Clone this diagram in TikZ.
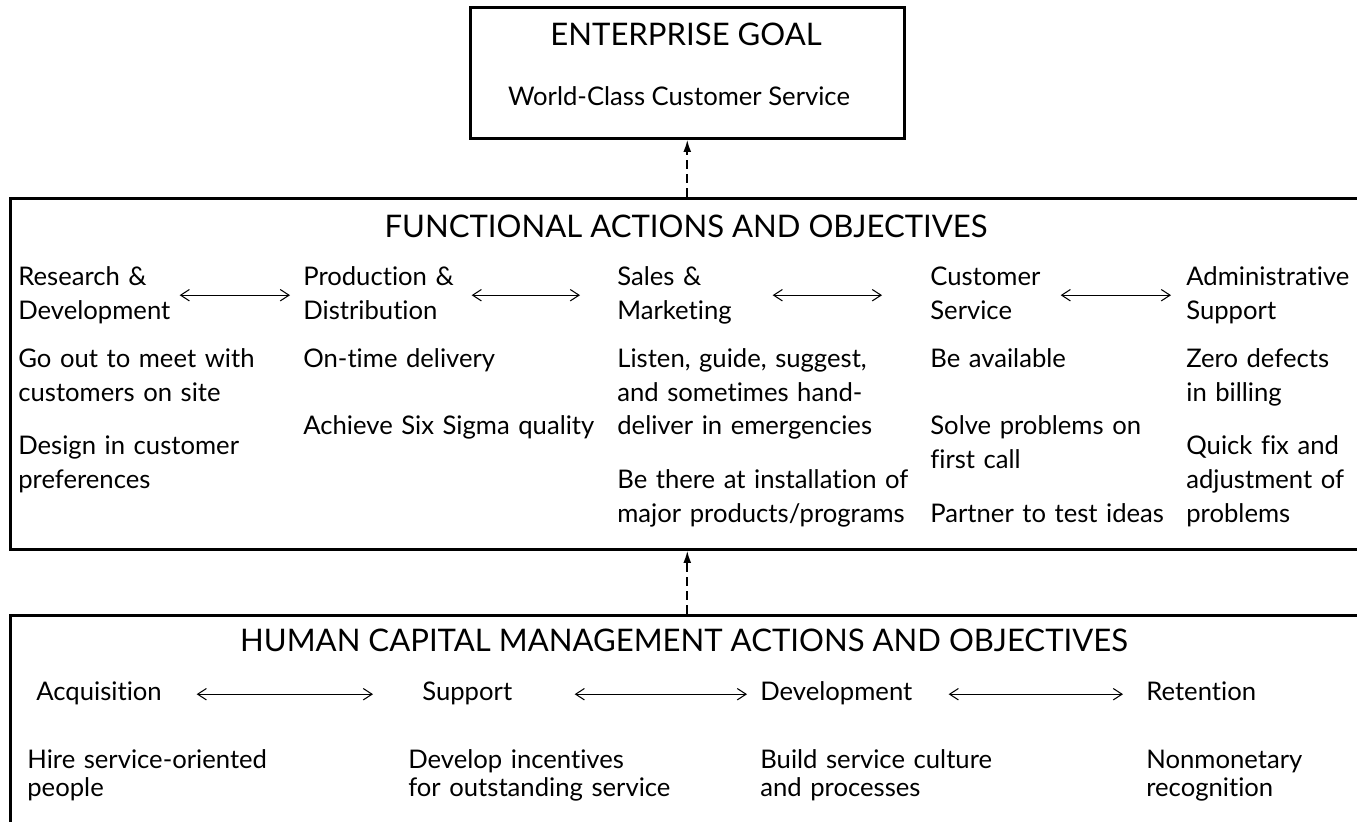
\documentclass[tikz,border=0pt]{standalone}
\usepackage{fontspec}
\setmainfont{Lato}[Ligatures = NoCommon]
\usetikzlibrary{shapes, arrows, arrows.meta}

\begin{document}
\begin{tikzpicture}[x = 0.02cm, y = -0.02cm]
      \tikzstyle{frame} = [
        draw,
        rectangle,
        line width = 1.5pt,
        anchor = north west,
        inner sep = 0pt
      ]

      \tikzstyle{title} = [
        font = \fontsize{17.7}{20}\selectfont,
        anchor = base,
        inner sep = 0pt
      ]

      \tikzstyle{heading} = [
        font = \fontsize{14.6}{19.35}\selectfont,
        align = left,
        anchor = base west,
        inner sep = 0pt,
        execute at begin node = \strut,
        execute at end node = \strut
      ]

      \tikzstyle{lowheading} = [
        heading,
        font = \fontsize{14.6}{16.5}\selectfont
      ]

      \tikzstyle{item} = [
        font = \fontsize{14.6}{19.35}\selectfont,
        align = left,
        text width = 6.5cm,
        anchor = base west,
        inner sep = 0pt
      ]

      \tikzstyle{lowitem} = [
        item,
        font = \fontsize{14.6}{16.5}\selectfont
      ]

      \tikzstyle{link} = [
        {Straight Barb[length = 5pt, width = 6.5pt]}-{Straight Barb[length = 5pt, width = 6.5pt]},
        line width = 0.6pt
      ]

      \tikzstyle{dasharrow} = [
        -{Latex[length = 7pt, width = 4.5pt]},
        line width = 1.1pt,
        dash pattern = on 5pt off 3pt
      ]

      \useasboundingbox (0,0) rectangle (1357,822);
      \clip (0,0) rectangle (1357,822);

      % the three boxes
      \node[frame, minimum width = 8.68cm, minimum height = 2.62cm] (goal) at (469,6) {};
      \node[frame, minimum width = 27.9cm, minimum height = 7.02cm] (functional) at (9,197) {};
      \node[frame, minimum width = 27.9cm, minimum height = 5cm] (hcm) at (9,614) {};

      \node[title] (goalhead) at (686,45) {ENTERPRISE GOAL};
      \node[item, text width = {}, anchor = base] (goalline) at (679,105) {World-Class Customer Service};

      % functional actions
      \node[title] (funchead) at (686,237) {FUNCTIONAL ACTIONS AND OBJECTIVES};

      \node[heading, text width = 3.22cm] (research) at (18,285) {Research \&\\Development};
      \node[heading, text width = 3.36cm] (production) at (303,285) {Production \&\\Distribution};
      \node[heading, text width = 3.1cm] (sales) at (617,285) {Sales \&\\Marketing};
      \node[heading, text width = 2.6cm] (custserv) at (930,285) {Customer\\Service};
      \node[heading, text width = 3.4cm] (admin) at (1186,285) {Administrative\\Support};

      \draw[link, shorten >= 0.26cm] (research.east) -- (production.west);
      \draw[link, shorten >= 0.74cm] (production.east) -- (sales.west);
      \draw[link, shorten >= 0.96cm] (sales.east) -- (custserv.west);
      \draw[link, shorten >= 0.3cm] (custserv.east) -- (admin.west);

      \node[item] (researchgoals) at (18,367) {Go out to meet with\\customers on site\\[0.4cm]Design in customer\\preferences};
      \node[item] (productiongoals) at (303,367) {On-time delivery\\[0.68cm]Achieve Six Sigma quality};
      \node[item] (salesgoals) at (617,367) {Listen, guide, suggest,\\and sometimes hand-\\deliver in emergencies\\[0.4cm]Be there at installation of\\major products/programs};
      \node[item] (custservgoals) at (930,367) {Be available\\[0.68cm]Solve problems on\\first call\\[0.4cm]Partner to test ideas};
      \node[item] (admingoals) at (1186,367) {Zero defects\\in billing\\[0.4cm]Quick fix and\\adjustment of\\problems};

      % human capital management
      \node[title] (hcmhead) at (684,651) {HUMAN CAPITAL MANAGEMENT ACTIONS AND OBJECTIVES};

      \node[lowheading, text width = 3.2cm] (acquisition) at (36,700) {Acquisition};
      \node[lowheading, text width = 3.04cm] (support) at (422,700) {Support};
      \node[lowheading, text width = 3.76cm] (development) at (760,700) {Development};
      \node[lowheading, text width = 3cm] (retention) at (1146,700) {Retention};

      \draw[link, shorten >= 0.98cm] (acquisition.east) -- (support.west);
      \draw[link, shorten >= 0.26cm] (support.east) -- (development.west);
      \draw[link, shorten >= 0.46cm] (development.east) -- (retention.west);

      \node[lowitem] (acquisitiongoals) at (27,768) {Hire service-oriented\\people};
      \node[lowitem] (supportgoals) at (408,768) {Develop incentives\\for outstanding service};
      \node[lowitem] (developmentgoals) at (760,768) {Build service culture\\and processes};
      \node[lowitem] (retentiongoals) at (1146,768) {Nonmonetary\\recognition};

      \draw[dasharrow] (functional.north -| goal.south) -- (goal.south);
      \draw[dasharrow] (hcm.north -| goal.south) -- (functional.south -| goal.south);
    \end{tikzpicture}
\end{document}
